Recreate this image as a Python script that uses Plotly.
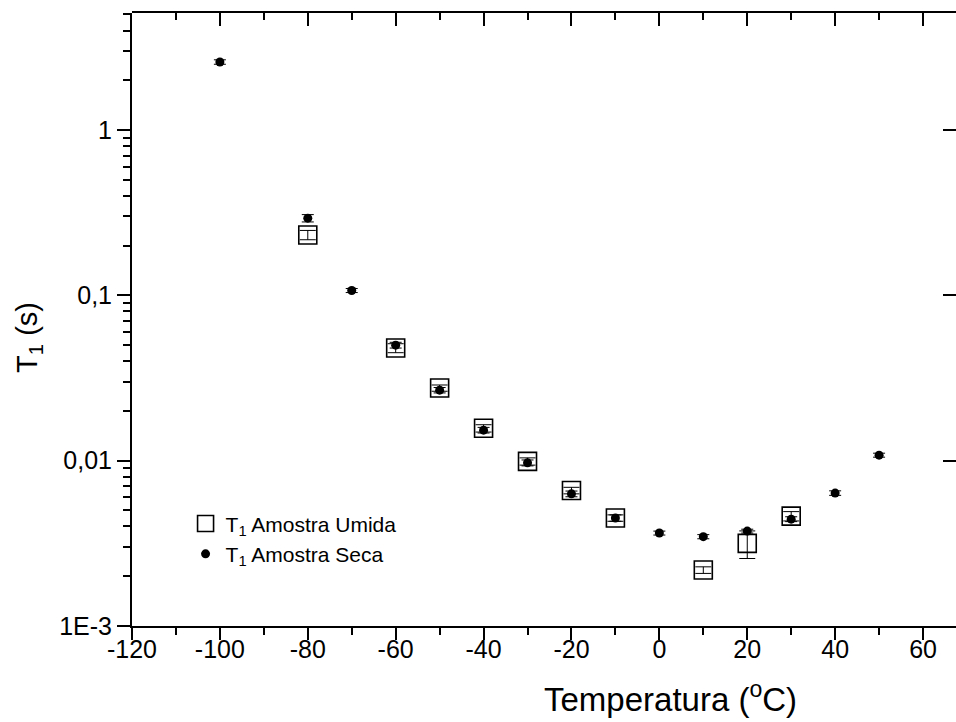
import plotly.graph_objects as go

# Temperatures (°C) and T1 relaxation times (s)
temp_seca = [-100, -80, -70, -60, -50, -40, -30, -20, -10, 0, 10, 20, 30, 40, 50]
t1_seca = [2.58, 0.293, 0.107, 0.050, 0.0267, 0.0153, 0.0097, 0.0063, 0.0045,
           0.00365, 0.00347, 0.00375, 0.00443, 0.00637, 0.0108]
err_seca = [0.08, 0.015, 0.003, 0.002, 0.001, 0.0006, 0.0004, 0.00025, 0.0002,
            0.0001, 0.0001, 0.0001, 0.00015, 0.0002, 0.0003]

temp_umida = [-80, -60, -50, -40, -30, -20, -10, 10, 20, 30]
t1_umida = [0.232, 0.048, 0.0275, 0.0157, 0.0099, 0.0066, 0.0045, 0.00218, 0.00316, 0.00462]
err_umida = [0.015, 0.003, 0.0012, 0.0008, 0.0005, 0.0003, 0.0002, 0.0001, 0.0006, 0.0003]

y_tick_vals = [0.001, 0.01, 0.1, 1]
y_tick_text = ["1E-3", "0,01", "0,1", "1"]
x_tick_vals = [-120, -100, -80, -60, -40, -20, 0, 20, 40, 60]
x_tick_text = ["-120", "-100", "-80", "-60", "-40", "-20", "0", "20", "40", "60"]
x_minor_vals = [-110, -90, -70, -50, -30, -10, 10, 30, 50]

FONT = "Liberation Sans, Arial, sans-serif"
X_RANGE = [-120, 67.5]
Y_RANGE = [-3, 0.708]

# minor log ticks at 2..9 of every decade
y_minor = [m * 10 ** e for e in range(-3, 1) for m in range(2, 10)]

fig = go.Figure()

fig.add_trace(go.Scatter(
    x=temp_umida, y=t1_umida, mode="markers",
    name="T<sub>1</sub> Amostra Umida",
    marker=dict(symbol="square-open", size=18, color="black",
                line=dict(width=1.6, color="black")),
    error_y=dict(type="data", array=err_umida, visible=True,
                 color="black", thickness=1, width=8),
))
# second series sits on a coincident subplot whose axes carry the top/right frame
fig.add_trace(go.Scatter(
    x=temp_seca, y=t1_seca, mode="markers", xaxis="x2", yaxis="y2",
    name="T<sub>1</sub> Amostra Seca",
    marker=dict(symbol="circle", size=9, color="black"),
    error_y=dict(type="data", array=err_seca, visible=True,
                 color="black", thickness=1, width=6),
))

axis_common = dict(showgrid=False, zeroline=False, linecolor="black",
                   linewidth=2, tickcolor="black", tickwidth=2)

fig.update_layout(
    width=956, height=722,
    margin=dict(l=132, r=0, t=13, b=96),
    plot_bgcolor="rgba(0,0,0,0)", paper_bgcolor="white",
    font=dict(family=FONT, color="black", size=25),
    xaxis=dict(
        domain=[0, 1], anchor="y",
        range=X_RANGE, tickvals=x_tick_vals, ticktext=x_tick_text,
        ticks="outside", ticklen=12, showline=True,
        ticklabelstandoff=-12,
        minor=dict(tickvals=x_minor_vals, ticks="outside", ticklen=7,
                   tickwidth=2, tickcolor="black", showgrid=False),
        tickfont=dict(size=25),
        **axis_common,
    ),
    xaxis2=dict(
        domain=[0, 1], anchor="y2", side="top",
        range=X_RANGE, tickvals=x_tick_vals, ticks="inside", ticklen=13,
        showticklabels=False, showline=True,
        minor=dict(tickvals=x_minor_vals, ticks="inside", ticklen=7,
                   tickwidth=2, tickcolor="black", showgrid=False),
        **axis_common,
    ),
    yaxis=dict(
        domain=[0, 1], anchor="x",
        type="log", range=Y_RANGE, tickvals=y_tick_vals, ticktext=y_tick_text,
        ticks="outside", ticklen=13, showline=True,
        minor=dict(tickvals=y_minor, ticks="outside", ticklen=7,
                   tickwidth=2, tickcolor="black", showgrid=False),
        tickfont=dict(size=25),
        **axis_common,
    ),
    yaxis2=dict(
        domain=[0, 1], anchor="x2", side="right",
        type="log", range=Y_RANGE, tickvals=y_tick_vals, ticks="inside",
        ticklen=13, showticklabels=False, showline=False, showgrid=False,
        zeroline=False, tickcolor="black", tickwidth=2,
    ),
    legend=dict(
        x=0.065, y=0.2, xanchor="left", yanchor="top",
        bgcolor="rgba(0,0,0,0)", font=dict(size=21),
    ),
    showlegend=True,
    annotations=[
        dict(text="Temperatura (<sup>o</sup>C)", xref="paper", yref="paper",
             x=0.653, y=-0.116, xanchor="center", yanchor="middle",
             showarrow=False, font=dict(size=33)),
        dict(text="T<sub>1</sub> (s)", xref="paper", yref="paper",
             x=-0.125, y=0.47, xanchor="center", yanchor="middle",
             textangle=-90, showarrow=False, font=dict(size=29)),
    ],
)

fig.write_html("out.html", config={"displayModeBar": False})
